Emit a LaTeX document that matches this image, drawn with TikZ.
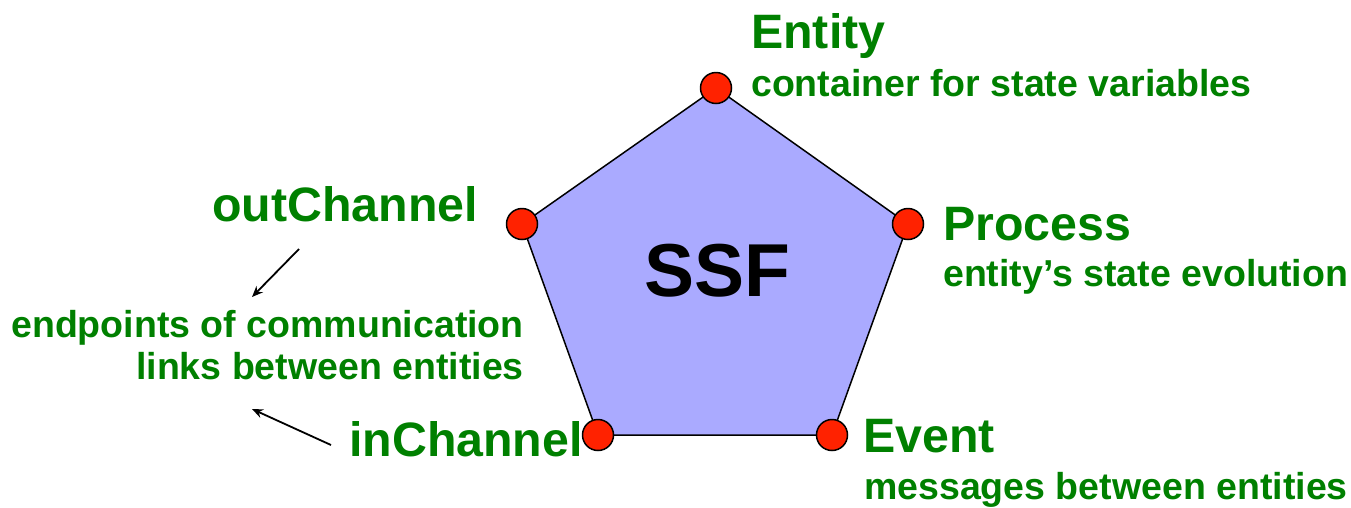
\documentclass[tikz,border=0pt]{standalone}
\usepackage{fontspec}
\setmainfont{Liberation Sans}
\usetikzlibrary{arrows.meta}
\definecolor{labelgreen}{RGB}{0,128,0}
\definecolor{facefill}{RGB}{170,170,255}
\definecolor{vertexred}{RGB}{255,34,0}
\tikzset{
  vertex/.style={circle, draw=black, line width=1.5pt, fill=vertexred, minimum size=31pt, inner sep=0pt},
  title/.style={anchor=base west, inner sep=0pt, text=labelgreen, font=\fontsize{48.3}{48}\selectfont\bfseries},
  note/.style={anchor=base west, inner sep=0pt, text=labelgreen, font=\fontsize{37.5}{42}\selectfont\bfseries},
  pointer/.style={line width=1.8pt, -{Stealth[length=11pt,width=9pt]}}
}
\begin{document}
\begin{tikzpicture}[x=1pt,y=-1pt]
  \useasboundingbox (0,0) rectangle (1351,507);

  % pentagon corners
  \coordinate (top) at (716,88);
  \coordinate (right) at (908,224);
  \coordinate (lowright) at (832,435);
  \coordinate (lowleft) at (598,435);
  \coordinate (left) at (522,224);

  \draw[line width=1.5pt, fill=facefill, line join=miter]
    (top) -- (right) -- (lowright) -- (lowleft) -- (left) -- cycle;

  \node[anchor=base, inner sep=0pt, font=\fontsize{75}{75}\selectfont\bfseries] (ssf) at (717,296) {SSF};

  % corner markers
  \node[vertex] (vtop) at (top) {};
  \node[vertex] (vright) at (right) {};
  \node[vertex] (vlowright) at (lowright) {};
  \node[vertex] (vlowleft) at (lowleft) {};
  \node[vertex] (vleft) at (left) {};

  % labels
  \node[title] (entity) at (751,48) {Entity};
  \node[note] (entitynote) at (751,96) {container for state variables};
  \node[title] (process) at (943,240) {Process};
  \node[note] (processnote) at (943,286) {entity’s state evolution};
  \node[title] (event) at (863,452) {Event};
  \node[note] (eventnote) at (864,499) {messages between entities};
  \node[title] (inch) at (349,456) {inChannel};
  \node[title] (outch) at (212,221) {outChannel};
  \node[note, anchor=base east] (ends1) at (524,337) {endpoints of communication};
  \node[note, anchor=base east] (ends2) at (524,379) {links between entities};

  % pointers to the channel note
  \coordinate (outfrom) at (299,249);
  \coordinate (outto) at (252,297);
  \coordinate (infrom) at (331,445);
  \coordinate (into) at (252,409);
  \draw[pointer] (outfrom) -- (outto);
  \draw[pointer] (infrom) -- (into);
\end{tikzpicture}
\end{document}
